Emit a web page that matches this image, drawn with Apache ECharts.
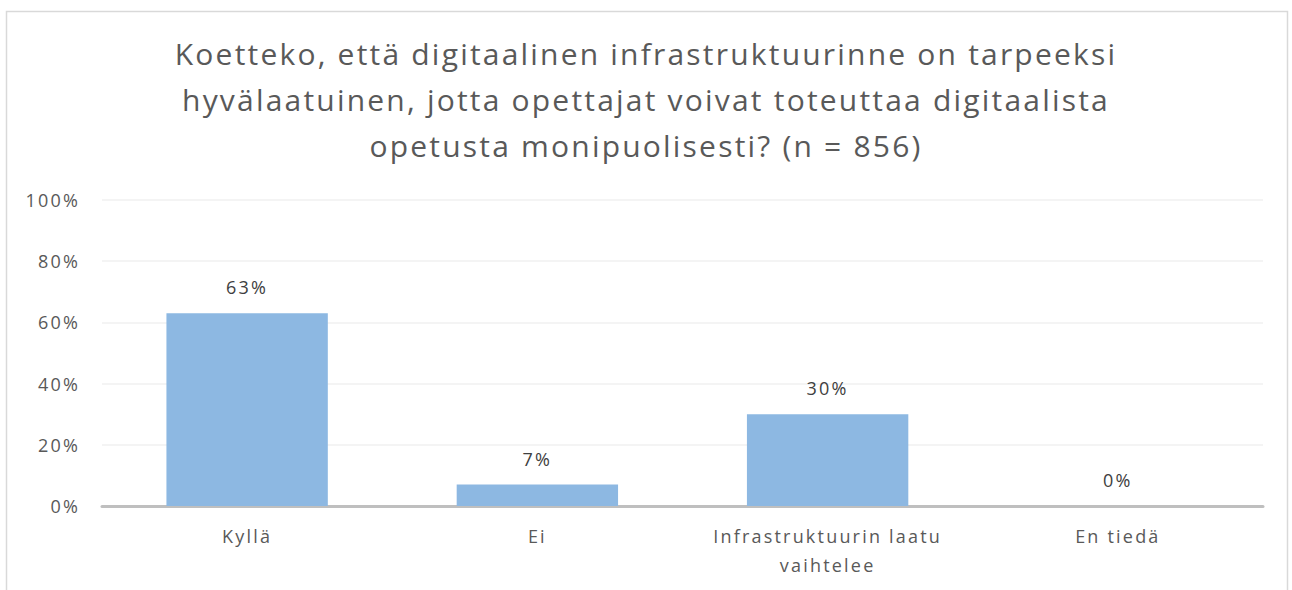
<!DOCTYPE html>
<html><head><meta charset="utf-8">
<script src="https://cdn.jsdelivr.net/npm/echarts@6/dist/echarts.min.js"></script>
<style>html,body{margin:0;padding:0;background:#fff}#c{width:1292px;height:590px}
#c svg text{letter-spacing:2.2px}</style>
</head><body><div id="c"></div>
<script>
const titleText = "Koetteko, että digitaalinen infrastruktuurinne on tarpeeksi\nhyvälaatuinen, jotta opettajat voivat toteuttaa digitaalista\nopetusta monipuolisesti? (n = 856)";
const categories = ["Kyllä", "Ei", "Infrastruktuurin laatu\nvaihtelee", "En tiedä"];
const values = [63, 7, 30, 0];
const yTicks = [0, 20, 40, 60, 80, 100];

const chart = echarts.init(document.getElementById('c'), null, {renderer: 'svg'});
chart.setOption({
  animation: false,
  graphic: [{type:'rect', shape:{x:6.5,y:11.5,width:1281,height:600}, style:{fill:'none', stroke:'#d9d9d9', lineWidth:1.5}, silent:true}],
  title: {
    text: titleText, left: 'center', top: 25,
    textStyle: {fontFamily: 'Open Sans', fontSize: 30, fontWeight: 'normal', color: '#595959', lineHeight: 46, align:'center'}
  },
  grid: {left: 102, right: 29, top: 200, bottom: 84},
  xAxis: {
    type: 'category', data: categories,
    axisLine: {lineStyle: {color: '#bfbfbf', width: 3}},
    axisTick: {show: false},
    axisLabel: {color: '#595959', fontFamily: 'Open Sans', fontSize: 18, margin: 15, lineHeight: 29}
  },
  yAxis: {
    type: 'value', min: 0, max: 100, interval: 20,
    axisLabel: {formatter: v => yTicks.includes(v) ? v + '%' : '', color: '#595959', fontFamily: 'Open Sans', fontSize: 18, margin: 22},
    splitLine: {lineStyle: {color: '#f0f0f0', width: 1.5}},
    axisLine: {show: false}, axisTick: {show: false}
  },
  series: [{
    type: 'bar', data: values, barWidth: '55.6%',
    itemStyle: {color: '#8db8e2'},
    label: {show: true, position: 'top', distance: 17, formatter: p => p.value + '%', color: '#404040', fontFamily: 'Open Sans', fontSize: 18}
  }]
});
</script></body></html>
